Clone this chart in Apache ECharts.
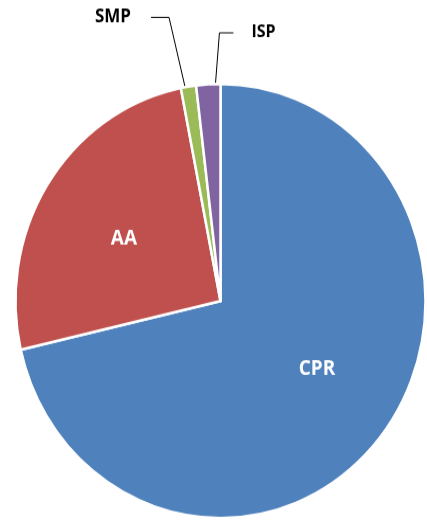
<!DOCTYPE html>
<html>
<head>
<meta charset="utf-8">
<script src="https://cdn.jsdelivr.net/npm/echarts@6/dist/echarts.min.js"></script>
<style>
  html, body { margin: 0; padding: 0; background: #fff; }
  body { width: 427px; height: 520px; }
  /* the source picture is a little taller than wide, so stretch the drawing */
  #chart { width: 427px; height: 491px; transform: scaleY(1.059); transform-origin: 0 0; }
</style>
</head>
<body>
<div id="chart"></div>
<script>
const categories = ['CPR', 'AA', 'SMP', 'ISP'];
const shares = [71.4, 25.5, 1.2, 1.9];
const colors = ['#4F81BD', '#C0504D', '#9BBB59', '#8064A2'];

// small slices get their label outside with a leader line
// tip = how far the line pokes into the slice from the arc
const calloutSpots = {
    SMP: { x: 113, y: 16, side: 'right', gap: 20, run: 18, size: 17, tip: [-2, 6] },
    ISP: { x: 263.5, y: 30.6, side: 'left', gap: 18, run: 14, size: 16, tip: [6.5, 8] }
};
// nudge for the labels sitting inside the big slices
const insideShift = {
    CPR: [14, -1.5],
    AA: [-8, -1.5]
};

function labelPlace (params) {
    const name = categories[params.dataIndex];
    const spot = calloutSpots[name];
    if (spot) {
        const sign = spot.side === 'right' ? 1 : -1;
        const endX = spot.x + sign * (params.labelRect.width / 2 + spot.gap);
        const turnX = endX + sign * spot.run;
        const a = params.labelLinePoints[0];
        const tip = [a[0] + spot.tip[0], a[1] + spot.tip[1]];
        return {
            x: spot.x,
            y: spot.y,
            align: 'center',
            verticalAlign: 'middle',
            labelLinePoints: [tip, [turnX, spot.y + 0.4], [endX, spot.y + 0.4]]
        };
    }
    const d = insideShift[name];
    return { dx: d[0], dy: d[1] };
}

const myChart = echarts.init(document.getElementById('chart'));
myChart.setOption({
    animation: false,
    color: colors,
    series: [
        {
            type: 'pie',
            center: [220.5, 284.2],
            radius: 205,
            startAngle: 90,
            clockwise: true,
            avoidLabelOverlap: false,
            itemStyle: { borderColor: '#fff', borderWidth: 2.5 },
            labelLayout: labelPlace,
            data: categories.map((name, i) => {
                const spot = calloutSpots[name];
                return {
                    name: name,
                    value: shares[i],
                    label: {
                        show: true,
                        position: spot ? 'outside' : 'inside',
                        formatter: '{b}',
                        color: spot ? '#000' : '#fff',
                        fontFamily: 'Open Sans',
                        fontWeight: 'bold',
                        fontSize: spot ? spot.size : 19
                    },
                    labelLine: {
                        show: !!spot,
                        length: 10,
                        length2: 10,
                        lineStyle: { color: '#000', width: 1 }
                    }
                };
            })
        }
    ]
});
</script>
</body>
</html>
